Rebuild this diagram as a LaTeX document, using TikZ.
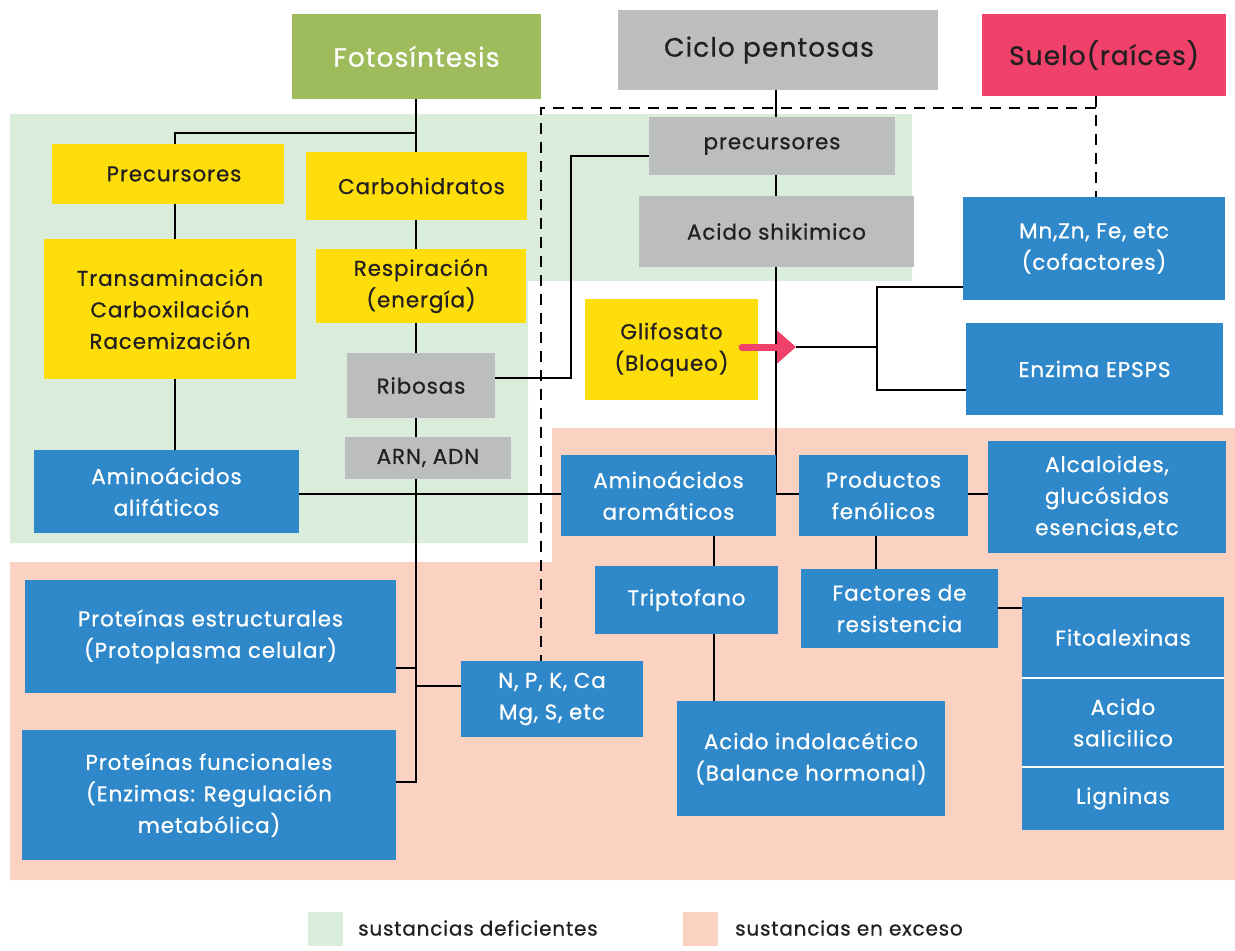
\documentclass[tikz,border=0pt]{standalone}
\usepackage{fontspec}
\setmainfont{Poppins}[LetterSpace=4, UprightFeatures={FakeBold=0.7}]
\usetikzlibrary{arrows.meta}
\definecolor{bggreen}{HTML}{DAECDA}
\definecolor{bgsalmon}{HTML}{FBD2C2}
\definecolor{cblue}{HTML}{2E88C9}
\definecolor{cyellow}{HTML}{FEDE0A}
\definecolor{cgray}{HTML}{BCBDBF}
\definecolor{colive}{HTML}{9EBC5B}
\definecolor{cpink}{HTML}{EF4169}
\definecolor{cdark}{HTML}{231F20}
\pgfdeclarelayer{bg}
\pgfdeclarelayer{lines}
\pgfdeclarelayer{front}
\pgfsetlayers{bg,lines,main,front}
\tikzset{
  bx/.style={draw=none, inner sep=0pt, align=center, font=\fontsize{21.5}{31.5}\selectfont},
  yb/.style={bx, fill=cyellow, text=cdark},
  gb/.style={bx, fill=cgray, text=cdark},
  bb/.style={bx, fill=cblue, text=white},
  hd/.style={bx, font=\fontsize{26.5}{30}\selectfont},
  ln/.style={draw=black, line width=2pt},
  dsh/.style={draw=black, line width=2.4pt, dash pattern=on 11pt off 8pt},
  parrow/.style={draw=cpink, line width=7pt, line cap=round, -{Triangle[length=19pt,width=32pt]}},
  sq/.style={draw=none, inner sep=0pt, minimum width=35pt, minimum height=34pt},
  lgt/.style={inner sep=0pt, anchor=west, text=cdark, font=\fontsize{20}{22}\selectfont}
}
\begin{document}
\begin{tikzpicture}[x=1pt,y=-1pt]
\useasboundingbox (0,0) rectangle (1235,951);
\begin{pgfonlayer}{bg}
\fill[white] (0,0) rectangle (1235,951);
\fill[bggreen] (10,114) -- (912,114) -- (912,281) -- (528,281) -- (528,543) -- (10,543) -- cycle;
\fill[bgsalmon] (552,428) -- (1235,428) -- (1235,880) -- (10,880) -- (10,562) -- (552,562) -- cycle;
\end{pgfonlayer}

% headers
\node[hd, fill=colive, text=white, minimum width=249pt, minimum height=85pt] (foto) at (416.5,56.5) {Fotosíntesis};
\node[hd, fill=cgray, text=cdark, minimum width=320pt, minimum height=80pt] (ciclo) at (778,50) {Ciclo pentosas\hspace*{18pt}};
\node[hd, fill=cpink, text=cdark, minimum width=244pt, minimum height=82pt] (suelo) at (1104,55) {Suelo(raíces)};

% left column
\node[yb, minimum width=232pt, minimum height=60pt] (prec1) at (168,174) {\hspace*{12pt}Precursores};
\node[yb, minimum width=221pt, minimum height=68pt] (carb) at (416.5,186) {\hspace*{10pt}Carbohidratos};
\node[yb, minimum width=252pt, minimum height=140pt] (trans) at (170,309) {Transaminación\\Carboxilación\\Racemización};
\node[yb, minimum width=210pt, minimum height=74pt] (resp) at (421,286) {Respiración\\(energía)};
\node[gb, minimum width=148pt, minimum height=65pt] (ribo) at (421,385.5) {Ribosas};
\node[gb, minimum width=166pt, minimum height=42pt] (arn) at (428,458) {ARN, ADN};
\node[bb, minimum width=265pt, minimum height=83pt] (alif) at (166.5,491.5) {Aminoácidos\\alifáticos};

% middle / right
\node[gb, minimum width=246pt, minimum height=58pt] (prec2) at (772,146) {precursores};
\node[gb, minimum width=275pt, minimum height=71pt] (shik) at (776.5,231.5) {Acido shikimico};
\node[bb, minimum width=262pt, minimum height=103pt] (mn) at (1094,248.5) {Mn,Zn, Fe, etc\\(cofactores)};
\node[yb, minimum width=173pt, minimum height=101pt] (gli) at (671.5,349.5) {Glifosato\\(Bloqueo)};
\node[bb, minimum width=257pt, minimum height=92pt] (epsps) at (1094.5,369) {Enzima EPSPS};
\node[bb, minimum width=215pt, minimum height=81pt] (arom) at (668.5,495.5) {Aminoácidos\\aromáticos};
\node[bb, minimum width=169pt, minimum height=81pt] (prod) at (883.5,495.5) {Productos\\fenólicos};
\node[bb, minimum width=238pt, minimum height=112pt] (alca) at (1107,497) {Alcaloides,\\glucósidos\\esencias,etc};
\node[bb, minimum width=183pt, minimum height=68pt] (trip) at (686.5,600) {Triptofano};
\node[bb, minimum width=197pt, minimum height=79pt] (fact) at (899.5,608.5) {Factores de\\resistencia};
\node[bb, minimum width=202pt, minimum height=81pt] (fito) at (1123,637.5) {Fitoalexinas};
\node[bb, minimum width=202pt, minimum height=89pt] (sal) at (1123,722.5) {Acido\\salicilico};
\node[bb, minimum width=202pt, minimum height=63pt] (lig) at (1123,798.5) {Ligninas};
\node[bb, minimum width=371pt, minimum height=113pt] (pest) at (210.5,636.5) {Proteínas estructurales\\(Protoplasma celular)};
\node[bb, minimum width=374pt, minimum height=130pt] (pfun) at (209,795) {Proteínas funcionales\\(Enzimas: Regulación\\metabólica)};
\node[bb, minimum width=182pt, minimum height=76pt] (npk) at (552,699) {N, P, K, Ca\\Mg, S, etc};
\node[bb, minimum width=268pt, minimum height=115pt] (indol) at (811,758.5) {Acido indolacético\\(Balance hormonal)};

% legend
\node[sq, fill=bggreen] (lg1) at (325.5,929) {};
\node[lgt] (lt1) at (358,928) {sustancias deficientes};
\node[sq, fill=bgsalmon] (lg2) at (700,929) {};
\node[lgt] (lt2) at (735,928) {sustancias en exceso};

% helper coordinates
\coordinate (vA) at (416,0);
\coordinate (vP) at (175,0);
\coordinate (sx) at (776,0);
\coordinate (vT) at (714,0);
\coordinate (vF) at (876,0);
\coordinate (j1) at (416,133);
\coordinate (jh) at (0,494);
\coordinate (jpe) at (416,668);
\coordinate (jnp) at (416,686);
\coordinate (jpf) at (416,782);
\coordinate (jr) at (571,378);
\coordinate (jr2) at (571,156);
\coordinate (jf) at (0,608);
\coordinate (aS) at (742,347);
\coordinate (aE) at (796,347);
\coordinate (jb) at (877,347);
\coordinate (jm) at (877,287);
\coordinate (je) at (877,390);
\coordinate (dc) at (1096,108);
\coordinate (dl) at (541,108);

\begin{pgfonlayer}{lines}
\draw[ln] (foto.south -| vA) -- (carb.north -| vA);
\draw[ln] (j1) -| (vP |- prec1.north);
\draw[ln] (prec1.south -| vP) -- (trans.north -| vP);
\draw[ln] (trans.south -| vP) -- (alif.north -| vP);
\draw[ln] (carb.south -| vA) -- (resp.north -| vA);
\draw[ln] (resp.south -| vA) -- (ribo.north -| vA);
\draw[ln] (ribo.south -| vA) -- (arn.north -| vA);
\draw[ln] (arn.south -| vA) -- (jpf) -- (jpf -| pfun.east);
\draw[ln] (jpe) -- (jpe -| pest.east);
\draw[ln] (jnp) -- (jnp -| npk.west);
\draw[ln] (alif.east |- jh) -- (arom.west |- jh);
\draw[ln] (arom.east |- jh) -- (prod.west |- jh);
\draw[ln] (prod.east |- jh) -- (alca.west |- jh);
\draw[ln] (ciclo.south -| sx) -- (prec2.north -| sx);
\draw[ln] (prec2.south -| sx) -- (shik.north -| sx);
\draw[ln] (shik.south -| sx) -- (sx |- jh);
\draw[ln] (ribo.east |- jr) -- (jr) -- (jr2) -- (jr2 -| prec2.west);
\draw[ln] (arom.south -| vT) -- (trip.north -| vT);
\draw[ln] (trip.south -| vT) -- (indol.north -| vT);
\draw[ln] (prod.south -| vF) -- (fact.north -| vF);
\draw[ln] (fact.east |- jf) -- (fito.west |- jf);
\draw[ln] (aE) -- (jb);
\draw[ln] (jm -| mn.west) -- (jm) -- (je) -- (je -| epsps.west);
\draw[dsh] (suelo.south -| dc) -- (dc) -- (mn.north -| dc);
\draw[dsh] (dc) -- (dl) -- (dl |- npk.north);
\end{pgfonlayer}

\begin{pgfonlayer}{front}
\draw[parrow] (aS) -- (aE);
\draw[white, line width=2pt] (fito.south west) -- (fito.south east);
\draw[white, line width=2pt] (sal.south west) -- (sal.south east);
\end{pgfonlayer}
\end{tikzpicture}
\end{document}
